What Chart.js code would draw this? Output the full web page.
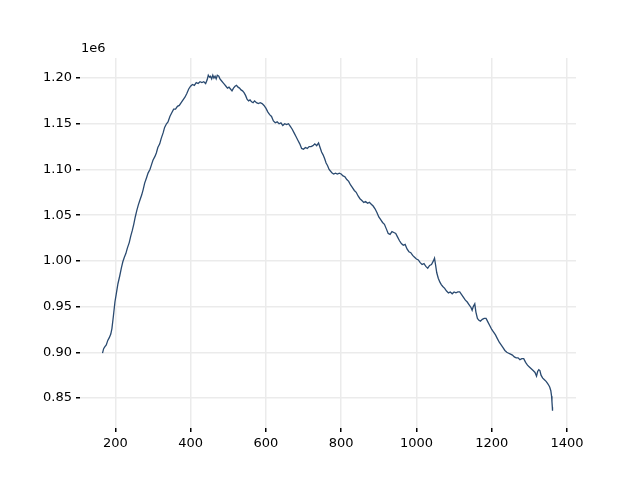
<!DOCTYPE html>
<html>
<head>
<meta charset="utf-8">
<script src="https://cdn.jsdelivr.net/npm/chart.js@4.4.1/dist/chart.umd.min.js"></script>
<style>
html,body{margin:0;padding:0;background:#fff;}
#c{display:block;}
</style>
</head>
<body>
<canvas id="c" width="640" height="480"></canvas>
<script>
// x positions (units of the horizontal axis)
const xValues = [166,169,172,176,180,184,188,191,195,199,203,207,212,216,220,224,228,232,237,241,245,249,253,257,261,265,270,274,278,283,287,292,296,300,305,309,313,318,322,327,331,336,340,345,350,355,360,365,370,375,380,385,390,395,400,405,410,415,420,425,430,435,440,444,447,450,453,456,459,462,465,468,471,475,478,482,486,490,494,498,502,506,510,514,518,522,526,530,534,538,542,546,550,554,558,562,566,570,575,580,585,590,595,600,605,610,615,620,625,630,635,640,645,650,655,660,665,670,675,680,685,690,695,700,705,710,715,720,725,730,735,740,744,748,752,756,760,764,768,772,776,780,785,790,795,800,805,810,815,820,825,830,835,840,845,850,855,860,865,870,875,880,885,890,895,900,905,910,915,920,925,930,935,940,945,950,955,960,965,970,975,980,985,990,995,1000,1005,1010,1015,1020,1025,1030,1035,1040,1045,1048,1051,1054,1058,1062,1066,1070,1075,1080,1085,1090,1095,1100,1105,1110,1115,1120,1125,1130,1135,1140,1145,1148,1151,1155,1158,1162,1166,1170,1175,1180,1185,1190,1195,1200,1205,1210,1215,1220,1225,1230,1235,1240,1245,1250,1255,1260,1265,1270,1275,1280,1285,1290,1295,1300,1305,1310,1315,1319,1322,1325,1328,1331,1335,1340,1345,1350,1354,1357,1359,1360,1361,1361.5];
// series values in units of 1e6
const yValues = [0.899,0.904,0.906,0.908,0.913,0.916,0.920,0.926,0.940,0.955,0.965,0.975,0.984,0.992,0.999,1.004,1.008,1.014,1.020,1.027,1.033,1.040,1.048,1.055,1.061,1.066,1.072,1.078,1.085,1.091,1.096,1.100,1.105,1.110,1.114,1.118,1.124,1.128,1.134,1.140,1.146,1.150,1.152,1.158,1.162,1.166,1.166,1.169,1.170,1.173,1.176,1.179,1.183,1.188,1.191,1.193,1.192,1.195,1.194,1.196,1.195,1.196,1.194,1.198,1.203,1.201,1.202,1.199,1.203,1.200,1.202,1.199,1.203,1.202,1.199,1.197,1.195,1.193,1.191,1.189,1.190,1.188,1.186,1.189,1.191,1.192,1.190,1.189,1.187,1.186,1.184,1.181,1.177,1.175,1.176,1.174,1.173,1.175,1.173,1.172,1.173,1.172,1.170,1.167,1.163,1.160,1.158,1.153,1.151,1.152,1.150,1.151,1.148,1.150,1.149,1.150,1.147,1.144,1.140,1.136,1.132,1.128,1.123,1.122,1.124,1.123,1.125,1.125,1.126,1.128,1.126,1.129,1.124,1.119,1.116,1.112,1.107,1.104,1.100,1.098,1.096,1.095,1.096,1.095,1.096,1.095,1.093,1.092,1.089,1.087,1.083,1.080,1.077,1.075,1.071,1.068,1.066,1.064,1.065,1.063,1.064,1.062,1.060,1.057,1.053,1.048,1.045,1.042,1.040,1.035,1.030,1.029,1.032,1.031,1.030,1.026,1.022,1.019,1.017,1.018,1.013,1.010,1.009,1.006,1.004,1.002,1.001,0.998,0.996,0.997,0.994,0.992,0.995,0.996,1.000,1.003,0.995,0.987,0.981,0.977,0.974,0.972,0.970,0.967,0.965,0.966,0.964,0.966,0.965,0.966,0.966,0.963,0.960,0.957,0.955,0.952,0.949,0.946,0.950,0.953,0.944,0.937,0.935,0.934,0.936,0.937,0.937,0.933,0.929,0.925,0.922,0.919,0.915,0.911,0.908,0.905,0.902,0.900,0.899,0.898,0.897,0.895,0.894,0.894,0.892,0.893,0.893,0.889,0.886,0.884,0.882,0.880,0.878,0.874,0.879,0.881,0.880,0.875,0.872,0.870,0.868,0.865,0.862,0.858,0.852,0.846,0.840,0.836];
const xTicks = [200,400,600,800,1000,1200,1400];
const yTicks = [0.85,0.90,0.95,1.00,1.05,1.10,1.15,1.20];
const offsetLabel = "1e6";

const points = xValues.map((x,i)=>({x:x, y:yValues[i]}));

const FONT = "'DejaVu Sans', sans-serif";
const offsetPlugin = {
  id:'offsetText',
  afterDraw(chart){
    const ctx = chart.ctx;
    ctx.save();
    ctx.font = "13px " + FONT;
    ctx.fillStyle = '#000';
    ctx.textBaseline = 'alphabetic';
    ctx.textAlign = 'left';
    ctx.fillText(offsetLabel, chart.chartArea.left + 1, chart.chartArea.top - 6);
    ctx.restore();
  }
};

new Chart(document.getElementById('c'), {
  type:'line',
  data:{datasets:[{data:points,borderColor:'#2a4a70',borderWidth:1.3,pointRadius:0,tension:0,fill:false}]},
  options:{
    responsive:false,
    animation:false,
    devicePixelRatio:1,
    layout:{padding:{left:0,right:64,top:58,bottom:0}},
    plugins:{legend:{display:false},tooltip:{enabled:false}},
    scales:{
      x:{
        type:'linear',
        min:106.2, max:1423.9,
        afterBuildTicks(s){ s.ticks = xTicks.map(v=>({value:v})); },
        afterFit(s){ s.height = 52; },
        border:{display:false},
        grid:{color:'#ebebeb',lineWidth:1.5,tickColor:'#000',tickLength:4,drawTicks:true},
        ticks:{color:'#000',font:{family:FONT,size:13},padding:4,maxRotation:0,autoSkip:false,callback:v=>String(v)}
      },
      y:{
        type:'linear',
        min:0.8172, max:1.2219,
        afterBuildTicks(s){ s.ticks = yTicks.map(v=>({value:v})); },
        afterFit(s){ s.width = 80; },
        border:{display:false},
        grid:{color:'#ebebeb',lineWidth:1.5,tickColor:'#000',tickLength:4,drawTicks:true},
        ticks:{color:'#000',font:{family:FONT,size:13},padding:4,autoSkip:false,callback:v=>Number(v).toFixed(2)}
      }
    }
  },
  plugins:[offsetPlugin]
});
</script>
</body>
</html>
